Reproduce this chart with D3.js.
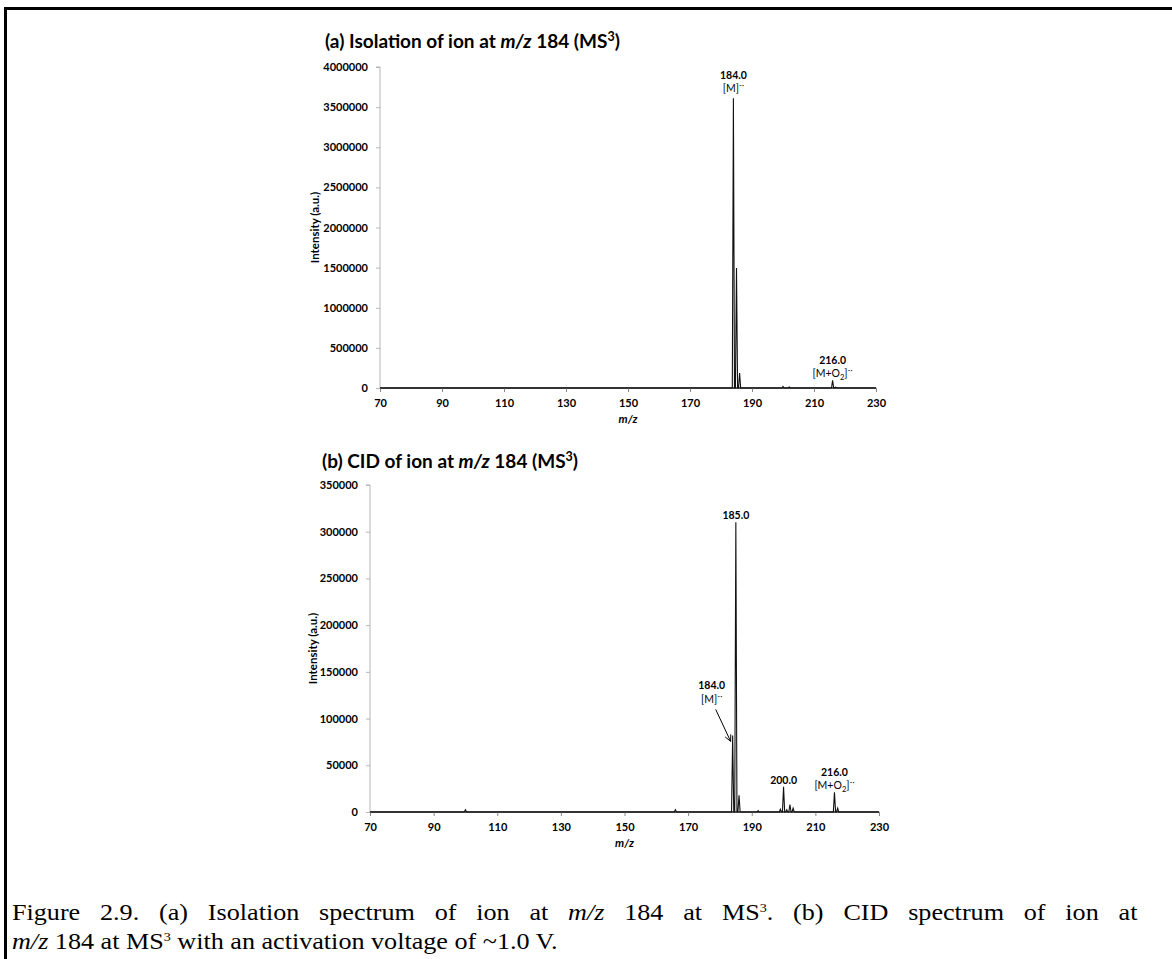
<!DOCTYPE html>
<html>
<head>
<meta charset="utf-8">
<script src="https://cdn.jsdelivr.net/npm/d3@7"></script>
<style>
  body { margin:0; background:#fff; }
  .chart text { font-family: Lato, "Open Sans", sans-serif; }
  .caption text { font-family: "Liberation Serif", "Times New Roman", serif; }
</style>
</head>
<body>
<svg id="fig" width="1172" height="959"></svg>
<script>
// ---- data ----
var mzTicks = [70, 90, 110, 130, 150, 170, 190, 210, 230];

// (a) isolation spectrum, MS3
var isoMz  = [184, 185, 186, 200, 202, 216, 217];
var isoInt = [3610000, 1495000, 187000, 20000, 12000, 95000, 10000];
var isoTicks = [0, 500000, 1000000, 1500000, 2000000, 2500000, 3000000, 3500000, 4000000];

// (b) CID spectrum, MS3
var cidMz  = [100, 166, 184, 185, 186, 192, 199, 200, 201, 202, 203, 216, 217];
var cidInt = [2500, 2500, 82000, 310000, 18000, 1500, 3000, 27000, 2500, 8000, 4000, 21000, 4000];
var cidTicks = [0, 50000, 100000, 150000, 200000, 250000, 300000, 350000];

var svg = d3.select("#fig");
svg.append("rect").attr("width",1172).attr("height",959).attr("fill","#fff");

// page frame
svg.append("path")
  .attr("d","M5.5,959V8.5H1172")
  .attr("fill","none").attr("stroke","#000").attr("stroke-width",3);

function peakPath(mz, inten, x, y){
  var pts = [[70,0]];
  var w = 0.35;
  mz.forEach(function(m,i){
    pts.push([m-w,0]); pts.push([m,inten[i]]); pts.push([m+w,0]);
  });
  pts.push([230,0]);
  return d3.line().x(function(d){return x(d[0]);}).y(function(d){return y(d[1]);})(pts);
}

function panel(opt){
  var g = svg.append("g").attr("class","chart");
  var x = d3.scaleLinear().domain([70,230]).range([opt.left, opt.right]);
  var y = d3.scaleLinear().domain([0, opt.ymax]).range([opt.bottom, opt.top]);

  // y axis
  var ya = g.append("g").attr("transform","translate("+opt.left+",0)")
    .call(d3.axisLeft(y).tickValues(opt.yticks).tickSize(4).tickPadding(8).tickFormat(d3.format("d")));
  ya.select(".domain").attr("stroke","#b5b5b5").attr("d","M0,"+opt.bottom+"V"+opt.top+"H-4");
  ya.selectAll(".tick line").attr("stroke","#b5b5b5");
  ya.selectAll(".tick text").attr("font-size",11)
    .attr("font-weight","bold").attr("fill","#000");

  // x axis
  var xa = g.append("g").attr("transform","translate(0,"+opt.bottom+")")
    .call(d3.axisBottom(x).tickValues(mzTicks).tickSize(4).tickPadding(7));
  xa.select(".domain").attr("stroke","#222").attr("stroke-width",1.5).attr("d","M"+opt.left+",0H"+opt.right);
  xa.selectAll(".tick line").attr("stroke","#888");
  xa.selectAll(".tick text").attr("font-size",11)
    .attr("font-weight","bold").attr("fill","#000");

  // spectrum
  g.append("path").attr("d", peakPath(opt.mz, opt.inten, x, y))
    .attr("fill","none").attr("stroke","#111").attr("stroke-width",1.1).attr("stroke-linejoin","miter");

  // title
  var t = g.append("text").attr("x",opt.titleX).attr("y",opt.titleY)
    .attr("font-size",19).attr("font-weight","bold");
  t.append("tspan").text(opt.titlePre);
  t.append("tspan").attr("font-style","italic").text("m/z");
  t.append("tspan").text(" 184 (MS");
  t.append("tspan").attr("font-size",12.5).attr("dy",-7).text("3");
  t.append("tspan").attr("dy",7).text(")");

  // axis titles
  g.append("text").attr("transform","translate("+opt.ylabX+","+((opt.top+opt.bottom)/2)+") rotate(-90)")
    .attr("text-anchor","middle").attr("dominant-baseline","central")
    .attr("font-size",11.5).attr("font-weight","bold").text("Intensity (a.u.)");
  g.append("text").attr("x",(opt.left+opt.right)/2).attr("y",opt.bottom+35)
    .attr("text-anchor","middle").attr("font-size",11.5).attr("font-weight","bold")
    .attr("font-style","italic").text("m/z");

  // peak labels
  opt.labels.forEach(function(L){
    var px = x(L.mz), py = y(L.val);
    var lx = px + (L.dx||0);
    g.append("text").attr("x",lx).attr("y",py+L.dy1).attr("text-anchor","middle")
      .attr("font-size",10.5).attr("font-weight","bold").text(L.num);
    if(L.ion){
      var it = g.append("text").attr("x",lx).attr("y",py+L.dy2).attr("text-anchor","middle")
        .attr("font-size",10.5).attr("font-weight","normal");
      if(L.ion=="M"){
        it.append("tspan").text("[M]");
      } else {
        it.append("tspan").text("[M+O");
        it.append("tspan").attr("font-size",7.5).attr("dy",2.5).text("2");
        it.append("tspan").attr("dy",-2.5).text("]");
      }
      it.append("tspan").attr("font-size",8).attr("dy",-4).text("-\u00b7");
    }
    if(L.arrow){
      var x0 = lx+4, y0 = py+L.dy2+6, x1 = px-2, y1 = py+6;
      g.append("line").attr("x1",x0).attr("y1",y0).attr("x2",x1).attr("y2",y1)
        .attr("stroke","#000").attr("stroke-width",1);
      var ang = Math.atan2(y1-y0, x1-x0);
      var hl = 7;
      g.append("path").attr("d","M"+(x1-hl*Math.cos(ang-0.45))+","+(y1-hl*Math.sin(ang-0.45))
        +"L"+x1+","+y1+"L"+(x1-hl*Math.cos(ang+0.45))+","+(y1-hl*Math.sin(ang+0.45)))
        .attr("fill","none").attr("stroke","#000").attr("stroke-width",1);
    }
  });
}

panel({
  left:380, right:876, top:67, bottom:388, ymax:4000000, yticks:isoTicks,
  mz:isoMz, inten:isoInt, titleX:325, titleY:48, titlePre:"(a) Isolation of ion at ",
  ylabX:314,
  labels:[
    {mz:184, val:3610000, num:"184.0", ion:"M", dy1:-19, dy2:-6},
    {mz:216, val:95000, num:"216.0", ion:"O2", dy1:-16, dy2:-3}
  ]
});

panel({
  left:370, right:879, top:485, bottom:812, ymax:350000, yticks:cidTicks,
  mz:cidMz, inten:cidInt, titleX:322, titleY:468, titlePre:"(b) CID of ion at ",
  ylabX:312,
  labels:[
    {mz:185, val:310000, num:"185.0", dy1:-3},
    {mz:184, val:82000, num:"184.0", ion:"M", dx:-21, dy1:-46, dy2:-32, arrow:true},
    {mz:200, val:27000, num:"200.0", dy1:-3},
    {mz:216, val:21000, num:"216.0", ion:"O2", dy1:-16, dy2:-3}
  ]
});

// caption: a justified paragraph, glyphs a bit wider than plain Times
var cap = svg.append("g").attr("class","caption");
function capLine(parts){
  var gl = cap.append("g");
  var tx = gl.append("text").attr("x",0).attr("y",0).attr("font-size",24);
  parts.forEach(function(p){
    var s = tx.append("tspan").text(p.t);
    if(p.i) s.attr("font-style","italic");
    if(p.sup) s.attr("font-size",13).attr("dy",-8);
    if(p.down) s.attr("dy",8);
  });
  return {g:gl, t:tx, w:tx.node().getComputedTextLength()};
}
var line1 = capLine([
  {t:"Figure 2.9. (a) Isolation spectrum of ion at "},
  {t:"m/z", i:true}, {t:" 184 at MS"}, {t:"3", sup:true},
  {t:". (b) CID spectrum of ion at", down:true}
]);
var line2 = capLine([
  {t:"m/z", i:true}, {t:" 184 at MS"}, {t:"3", sup:true},
  {t:" with an activation voltage of ~1.0 V.", down:true}
]);
var sx = 546 / line2.w;
line2.g.attr("transform","translate(12,949) scale("+sx+",1)");
// justify line 1 with extra word spacing
var gaps = 17;
var extra = (1126 / sx - line1.w) / gaps;
line1.t.style("word-spacing", extra + "px");
var w1 = line1.t.node().getComputedTextLength();
if (Math.abs(w1 * sx - 1126) > 20) {
  line1.t.style("word-spacing", null).attr("textLength", 1126 / sx).attr("lengthAdjust","spacing");
}
line1.g.attr("transform","translate(12,920) scale("+sx+",1)");
</script>
</body>
</html>
